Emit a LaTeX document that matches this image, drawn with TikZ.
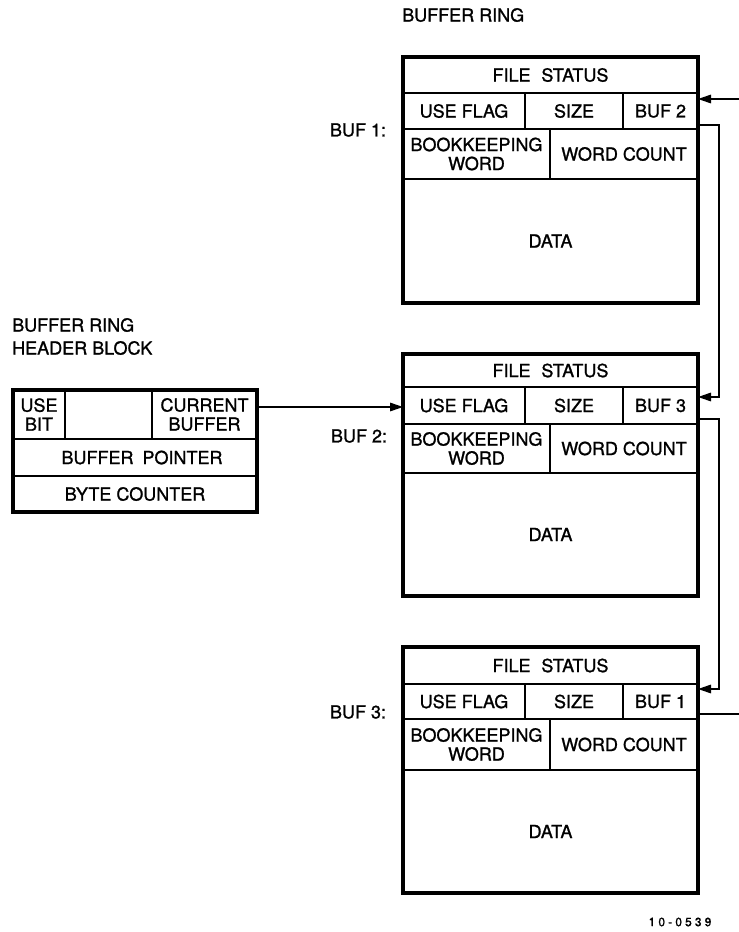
\documentclass[tikz,border=0pt]{standalone}
\usepackage{fontspec}
\setmainfont{TeX Gyre Heros}[FakeBold=1.2]
\usetikzlibrary{arrows.meta,calc}

\tikzset{
  cell/.style={draw, line width=1.8pt, inner sep=0pt, outer sep=0pt,
    anchor=north west, align=center, font=\fontsize{18}{19}\selectfont},
  frame/.style={line width=3.2pt, line join=miter},
  wire/.style={line width=1.6pt, line join=miter},
  arr/.style={wire, -{Triangle[length=13pt,width=8.5pt]}},
  lbl/.style={font=\fontsize{18}{23}\selectfont, inner sep=0pt},
}

% One buffer of the ring: #1 name, #2..#6 row edges (top to bottom), #7 link field
\newcommand\bufferblock[7]{%
  \pgfmathsetmacro\bbA{#3-#2}%
  \pgfmathsetmacro\bbB{#4-#3}%
  \pgfmathsetmacro\bbC{#5-#4}%
  \pgfmathsetmacro\bbD{#6-#5}%
  \node[cell, minimum width=295pt, minimum height=\bbA pt] (#1-fs) at (403,#2) {FILE\hspace{0.6em}STATUS};
  \node[cell, minimum width=122pt, minimum height=\bbB pt] (#1-uf) at (403,#3) {USE FLAG};
  \node[cell, minimum width=98pt, minimum height=\bbB pt] (#1-sz) at (525,#3) {SIZE};
  \node[cell, minimum width=75pt, minimum height=\bbB pt] (#1-bf) at (623,#3) {#7};
  \node[cell, minimum width=147pt, minimum height=\bbC pt] (#1-bk) at (403,#4) {BOOKKEEPING\\WORD};
  \node[cell, minimum width=148pt, minimum height=\bbC pt] (#1-wc) at (550,#4) {WORD COUNT};
  \node[cell, minimum width=295pt, minimum height=\bbD pt] (#1-dt) at (403,#5) {DATA};
  \draw[frame] (#1-fs.north west) rectangle (#1-dt.south east);
}

\begin{document}
\begin{tikzpicture}[x=1pt, y=-1pt]
  \useasboundingbox (0,0) rectangle (739,932);

  % titles
  \node[lbl, anchor=west] (title) at (402,15) {BUFFER RING};
  \node[lbl, anchor=west, align=left] (hdtitle) at (12,336.5) {BUFFER RING\\HEADER BLOCK};

  % the three buffers
  \bufferblock{b1}{57}{93}{129}{179}{303}{BUF 2}
  \bufferblock{b2}{354}{387}{424}{473}{596}{BUF 3}
  \bufferblock{b3}{647}{684}{719}{770}{893}{BUF 1}

  \node[lbl] (l1) at (358,130) {BUF 1:};
  \node[lbl] (l2) at (359,436) {BUF 2:};
  \node[lbl] (l3) at (358,712) {BUF 3:};

  % header block
  \node[cell, minimum width=52pt, minimum height=49pt] (hd-use) at (13,390) {USE\\BIT};
  \node[cell, minimum width=87pt, minimum height=49pt] (hd-gap) at (65,390) {};
  \node[cell, minimum width=105pt, minimum height=49pt] (hd-cur) at (152,390) {CURRENT\\BUFFER};
  \node[cell, minimum width=244pt, minimum height=37pt] (hd-ptr) at (13,439) {\hspace{14pt}BUFFER\hspace{0.5em}POINTER};
  \node[cell, minimum width=244pt, minimum height=36pt] (hd-cnt) at (13,476) {BYTE COUNTER};
  \draw[frame] (hd-use.north west) rectangle (hd-cnt.south east);

  % link points
  \coordinate (rail) at (719,0);
  \coordinate (edge) at (739,0);
  \coordinate (b1in)  at ([yshift=-6pt]b1-bf.north east);
  \coordinate (b1out) at ([yshift=4pt]b1-bf.south east);
  \coordinate (b2in)  at ([yshift=-10pt]b2-bf.north east);
  \coordinate (b2out) at ([yshift=5pt]b2-bf.south east);
  \coordinate (b3in)  at ([yshift=-5pt]b3-bf.north east);
  \coordinate (b3out) at ([yshift=5pt]b3-bf.south east);
  \coordinate (hdout) at ([yshift=-17pt]hd-cur.north east);

  % ring links
  \draw[arr] (b1in -| edge) -- (b1in);
  \draw[arr] (b1out) -| (rail |- b2in) -- (b2in);
  \draw[arr] (b2out) -| (rail |- b3in) -- (b3in);
  \draw[wire] (b3out) -- (b3out -| edge);

  % header pointer to the current buffer
  \draw[arr] (hdout) -- (hdout -| b2-uf.west);

  \node[font=\fontsize{12}{14}\selectfont\addfontfeature{LetterSpace=26}] (fig) at (680,922) {10-0539};
\end{tikzpicture}
\end{document}
